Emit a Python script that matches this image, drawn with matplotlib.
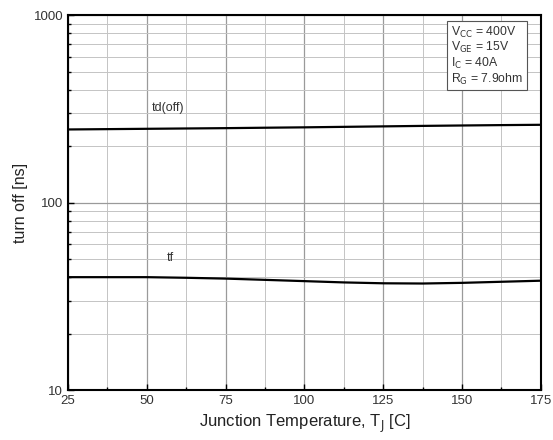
import matplotlib
matplotlib.use("Agg")
import matplotlib.pyplot as plt
from matplotlib.ticker import MultipleLocator, LogLocator, NullFormatter

plt.rcParams['font.family'] = ['Liberation Sans', 'DejaVu Sans']

# junction temperature [C]
temp = [25, 37.5, 50, 62.5, 75, 87.5, 100, 112.5, 125, 137.5, 150, 162.5, 175]
# turn-off delay time [ns]
td_off = [245.5, 246.5, 247.5, 248.5, 249.5, 250.8, 252, 253.5, 255, 256.5, 257.8, 259, 260]
# fall time [ns]
tf = [40.0, 40.0, 40.0, 39.7, 39.3, 38.7, 38.1, 37.5, 37.1, 37.0, 37.3, 37.8, 38.3]

conditions = [r"V$_{\rm CC}$ = 400V", r"V$_{\rm GE}$ = 15V",
              r"I$_{\rm C}$ = 40A", r"R$_{\rm G}$ = 7.9ohm"]

fig = plt.figure(figsize=(5.53, 4.40), dpi=100)
ax = fig.add_axes([0.123, 0.1136, 0.855, 0.852])

ax.plot(temp, td_off, color="black", lw=1.6)
ax.plot(temp, tf, color="black", lw=1.6)

ax.set_yscale("log")
ax.set_xlim(25, 175)
ax.set_ylim(10, 1000)
ax.xaxis.set_major_locator(MultipleLocator(25))
ax.xaxis.set_minor_locator(MultipleLocator(12.5))
ax.yaxis.set_major_locator(LogLocator(base=10))
ax.yaxis.set_minor_locator(LogLocator(base=10, subs=range(2, 10)))
ax.yaxis.set_minor_formatter(NullFormatter())
ax.yaxis.set_major_formatter(plt.FuncFormatter(lambda v, p: f"{int(v)}"))

ax.grid(True, which="major", color="#9a9a9a", lw=0.9)
ax.grid(True, which="minor", color="#c4c4c4", lw=0.7)
ax.tick_params(which="both", direction="in", labelsize=9.5, labelcolor="#333333",
               top=False, right=False)
ax.tick_params(which="major", length=4, width=1)
ax.tick_params(which="minor", length=2.5, width=1)
for s in ax.spines.values():
    s.set_linewidth(1.5)

ax.text(56.7, 320, "td(off)", fontsize=9, color="#333333", ha="center", va="center")
ax.text(57.3, 50.5, "tf", fontsize=9, color="#333333", ha="center", va="center")

ax.text(0.81, 0.975, "\n".join(conditions), transform=ax.transAxes,
        fontsize=8.8, color="#333333", ha="left", va="top", linespacing=1.05,
        bbox=dict(boxstyle="square,pad=0.3", fc="white", ec="#555555", lw=0.8))

ax.set_xlabel(r"Junction Temperature, T$_{\rm J}$ [C]", fontsize=12, color="#222222")
ax.set_ylabel("turn off [ns]", fontsize=11.5, color="#222222")

fig.savefig("out.png", dpi=100)
